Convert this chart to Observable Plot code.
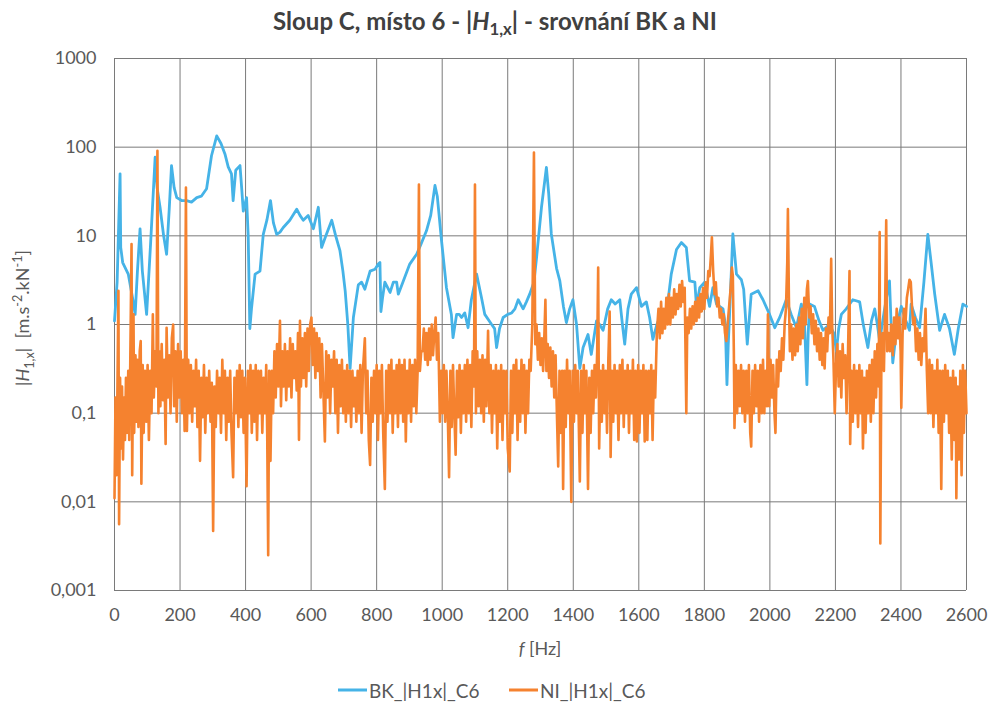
<!DOCTYPE html>
<html><head><meta charset="utf-8">
<script src="https://cdn.jsdelivr.net/npm/d3@7"></script>
<script src="https://cdn.jsdelivr.net/npm/@observablehq/plot@0.6"></script>
<style>
body{margin:0;background:#fff;font-family:Lato,"Open Sans",sans-serif;color:#595959;}
#wrap{position:relative;width:990px;height:705px;overflow:hidden;}
#chart{position:absolute;left:0;top:0;}
.t{position:absolute;white-space:nowrap;}
#title{left:0;width:990px;top:20px;text-align:center;font-weight:bold;font-size:24px;color:#404040;transform:translateY(-50%);}
#ylab{left:22px;top:318px;font-size:18px;transform:translate(-50%,-50%) rotate(-90deg);}
#xlab{left:540px;top:648px;font-size:18px;transform:translate(-50%,-50%);}
sub,sup{font-size:70%;line-height:0;}
.leg{top:690px;font-size:19px;transform:translateY(-50%);display:flex;align-items:center;}
.leg span.sw{display:inline-block;width:29px;height:3px;margin-right:2px;}
</style>
</head><body>
<div id="wrap">
<div id="chart"></div>
<div class="t" id="title">Sloup C, místo 6 - |<i>H</i><sub>1,x</sub>| - srovnání BK a NI</div>
<div class="t" id="ylab">|<i>H</i><sub>1,x</sub>| &nbsp;[m.s<sup>-2</sup>.kN<sup>-1</sup>]</div>
<div class="t" id="xlab"><i>f</i> [Hz]</div>
<div class="t leg" style="left:338px"><span class="sw" style="background:#45b3e7"></span>BK_|H1x|_C6</div>
<div class="t leg" style="left:509px"><span class="sw" style="background:#f5822f"></span>NI_|H1x|_C6</div>
</div>
<script>
const xTicks = [0,200,400,600,800,1000,1200,1400,1600,1800,2000,2200,2400,2600];
const yTicks = [0.001,0.01,0.1,1,10,100,1000];
const yTickLabels = ["0,001","0,01","0,1","1","10","100","1000"];
const seriesNames = ["BK_|H1x|_C6","NI_|H1x|_C6"];

const bkData = [[0,1.1],[8,3],[17,50],[19,7.4],[25,5],[42,3.7],[55,2],[63,1.3],[70,4],[78,12],[85,4],[98,1.3],[110,8],[124,77],[130,35],[139,21],[150,10],[159,6.2],[167,20],[174,62],[182,35],[190,27],[205,25],[220,25],[235,24],[251,27],[265,28],[281,34],[296,80],[312,134],[325,110],[337,84],[347,60],[357,50],[362,25],[370,55],[383,62],[388,35],[393,19],[403,27],[408,10],[413,0.9],[418,1.5],[429,3.7],[444,4],[454,10.4],[465,15],[476,25],[485,14],[495,10.4],[505,11],[515,12.4],[535,15],[556,20],[566,17],[576,15],[591,17],[607,12],[622,21],[632,7.4],[645,10],[663,15],[675,10],[688,6.8],[697,4],[704,2.4],[712,1],[719,0.32],[729,1.2],[744,2.8],[754,3],[764,2.5],[780,4],[795,4.2],[805,4.8],[810,5],[813,1.4],[818,2],[825,3],[841,2.3],[851,3],[861,3],[866,2.2],[880,3],[901,4.8],[922,6.2],[935,8],[952,11.4],[965,17],[978,37],[985,28],[998,8.8],[1013,2.6],[1028,1.3],[1033,0.71],[1044,1.3],[1052,1.3],[1059,1.2],[1069,1.35],[1079,0.92],[1089,1.9],[1105,3.7],[1120,2],[1130,1.3],[1151,1],[1160,0.9],[1166,0.55],[1175,0.9],[1186,1.2],[1200,1.3],[1212,1.35],[1222,1.5],[1232,1.9],[1247,1.5],[1257,1.8],[1267,2.2],[1280,3],[1288,5.7],[1303,21],[1318,59],[1325,30],[1333,10.5],[1349,4.3],[1359,3.1],[1370,1.6],[1379,1.05],[1389,1.5],[1399,1.9],[1410,1],[1420,0.32],[1430,0.55],[1445,0.77],[1455,0.46],[1471,1.1],[1480,1],[1491,0.86],[1505,1.5],[1516,1.9],[1528,1.7],[1542,1.9],[1550,1],[1557,0.6],[1567,1.5],[1577,2.2],[1593,2.6],[1608,1.6],[1623,1.8],[1633,1.2],[1643,0.68],[1655,1],[1664,1.2],[1684,1.3],[1699,3.7],[1715,7],[1730,8.4],[1745,7.4],[1755,3.1],[1771,3],[1776,1.6],[1786,2.6],[1801,3],[1816,1.6],[1826,2.6],[1837,1.7],[1857,1.5],[1864,1],[1869,0.21],[1873,0.6],[1877,1.3],[1887,10.5],[1898,3.7],[1913,3.2],[1920,2.5],[1931,0.6],[1943,2.2],[1964,2.4],[1979,1.9],[1999,1.3],[2015,0.92],[2030,1.2],[2050,1.9],[2065,1.3],[2081,0.92],[2096,1.7],[2105,1.2],[2113,0.21],[2117,0.8],[2121,1.7],[2136,1.6],[2150,1.1],[2162,0.86],[2182,1],[2195,0.8],[2203,0.5],[2210,0.9],[2218,1.3],[2233,1.5],[2253,1.9],[2274,1.8],[2285,1],[2299,0.55],[2310,1.1],[2320,1.5],[2328,1],[2335,0.65],[2350,1.5],[2365,3.1],[2370,1],[2375,0.37],[2388,1],[2401,1.6],[2415,1.1],[2426,0.86],[2431,1.7],[2444,1.2],[2457,0.92],[2470,3],[2482,10.4],[2492,5],[2503,2.2],[2518,0.86],[2533,1.3],[2548,0.9],[2563,0.46],[2575,0.9],[2589,1.7],[2600,1.6]];

const niData = [[0,0.011],[3,0.15],[6,0.02],[9,0.2],[12,2.4],[14,0.0056],[17,0.25],[20,0.04],[23,0.2],[26,0.03],[29,0.15],[32,0.05],[35,0.25],[38,0.06],[42,0.3],[45,0.05],[48,0.35],[52,8.1],[54,0.02],[58,1.3],[60,0.06],[64,0.45],[67,0.08],[70,0.4],[73,0.07],[77,0.5],[80,0.65],[82,0.016],[86,0.35],[89,0.06],[93,0.3],[97,0.08],[101,0.35],[105,0.05],[109,0.3],[113,0.1],[117,1.3],[120,0.15],[124,0.5],[128,0.2],[131,91],[134,0.1],[137,0.5],[140,0.12],[144,0.6],[148,0.14],[152,0.4],[156,0.045],[159,0.92],[163,0.15],[167,0.45],[171,0.1],[175,0.7],[179,1.0],[182,0.12],[186,0.5],[190,0.08],[194,0.6],[198,0.15],[202,0.5],[206,0.1],[210,0.4],[214,0.063],[218,35],[221,0.063],[225,0.4],[229,0.1],[233,0.35],[237,0.08],[241,0.3],[245,0.12],[249,0.4],[253,0.07],[257,0.3],[261,0.029],[265,0.25],[269,0.09],[273,0.35],[277,0.06],[281,0.25],[285,0.1],[289,0.3],[293,0.08],[297,0.22],[301,0.0047],[305,0.2],[309,0.07],[313,0.3],[317,0.1],[321,0.25],[325,0.06],[329,0.4],[333,0.1],[337,0.3],[341,0.05],[345,0.25],[349,0.08],[353,0.3],[357,0.06],[362,0.019],[366,0.25],[370,0.1],[374,0.3],[378,0.07],[382,0.35],[386,0.09],[390,0.3],[394,0.06],[398,0.25],[403,0.015],[407,0.3],[411,0.1],[415,0.35],[419,0.06],[423,0.3],[427,0.08],[431,0.35],[435,0.05],[439,0.3],[443,0.1],[447,0.3],[451,0.06],[455,0.25],[459,0.1],[463,0.35],[466,0.06],[469,0.0025],[472,0.3],[476,0.029],[480,0.3],[484,0.1],[488,0.5],[492,0.15],[496,0.6],[500,0.2],[505,1.1],[508,0.12],[512,0.5],[516,0.2],[520,0.6],[524,0.14],[528,0.5],[532,0.2],[536,0.7],[540,0.15],[544,0.6],[548,0.25],[552,0.5],[556,0.18],[560,0.8],[563,0.05],[566,1.1],[569,0.2],[573,0.7],[577,0.25],[581,0.8],[585,0.2],[589,0.9],[593,0.3],[597,1.0],[601,1.2],[605,0.35],[609,0.9],[613,0.25],[617,0.8],[621,0.3],[625,0.7],[629,0.15],[633,0.6],[637,0.2],[642,0.048],[646,0.5],[650,0.15],[654,0.45],[658,0.1],[662,0.4],[666,0.2],[670,0.5],[674,0.1],[678,0.4],[682,0.06],[686,0.35],[690,0.12],[694,0.4],[698,0.1],[702,0.3],[706,0.08],[710,0.35],[714,0.1],[718,0.3],[722,0.07],[726,0.3],[730,0.12],[734,0.25],[738,0.08],[742,0.3],[746,0.1],[750,0.35],[754,0.06],[758,0.3],[764,0.7],[768,0.1],[772,0.3],[776,0.05],[780,0.026],[784,0.25],[788,0.08],[792,0.3],[796,0.1],[800,0.35],[804,0.05],[808,0.3],[812,0.1],[816,0.35],[820,0.06],[825,0.014],[829,0.3],[833,0.08],[837,0.35],[841,0.1],[845,0.4],[849,0.06],[853,0.3],[857,0.1],[861,0.35],[865,0.07],[869,0.4],[873,0.1],[877,0.35],[881,0.08],[885,0.4],[889,0.048],[893,0.3],[897,0.1],[901,0.4],[905,0.08],[909,0.35],[913,0.12],[917,0.4],[921,0.1],[925,0.3],[929,38],[932,0.3],[936,0.5],[940,0.5],[944,0.9],[948,0.4],[952,0.8],[956,0.35],[960,0.9],[964,0.4],[968,1.0],[972,0.45],[976,0.8],[980,1.2],[984,0.4],[988,0.8],[993,0.08],[997,0.3],[1001,0.1],[1005,0.35],[1009,0.08],[1013,0.3],[1017,0.1],[1021,0.019],[1025,0.3],[1029,0.07],[1033,0.35],[1037,0.1],[1041,0.034],[1045,0.3],[1049,0.09],[1053,0.35],[1057,0.06],[1061,0.3],[1065,0.1],[1069,0.35],[1073,0.08],[1077,0.4],[1081,0.1],[1085,0.35],[1089,0.07],[1093,0.5],[1097,0.2],[1100,38],[1103,0.1],[1107,0.5],[1111,0.12],[1115,0.4],[1119,0.1],[1123,0.45],[1127,0.08],[1131,0.4],[1135,0.12],[1140,0.85],[1144,0.1],[1148,0.35],[1152,0.06],[1156,0.3],[1160,0.1],[1164,0.35],[1168,0.04],[1172,0.3],[1176,0.08],[1180,0.35],[1184,0.05],[1188,0.3],[1192,0.1],[1196,0.3],[1200,0.04],[1206,0.022],[1210,0.3],[1214,0.06],[1218,0.35],[1222,0.1],[1226,0.4],[1230,0.05],[1234,0.3],[1238,0.08],[1242,0.4],[1246,0.1],[1250,0.35],[1254,0.06],[1258,0.3],[1262,0.1],[1266,0.4],[1270,0.3],[1275,1.0],[1280,87],[1284,0.6],[1288,1.0],[1292,0.4],[1296,0.8],[1300,0.35],[1304,0.7],[1308,0.3],[1312,0.8],[1315,1.9],[1318,0.3],[1322,0.6],[1326,0.25],[1330,0.55],[1334,0.2],[1338,0.5],[1342,0.15],[1346,0.45],[1350,0.1],[1354,0.025],[1358,0.3],[1362,0.06],[1366,0.3],[1369,0.014],[1373,0.3],[1377,0.07],[1381,0.4],[1385,0.1],[1389,0.3],[1394,0.01],[1398,0.3],[1402,0.08],[1406,0.35],[1410,0.1],[1414,0.3],[1420,0.017],[1424,0.3],[1428,0.06],[1432,0.35],[1436,0.1],[1440,0.3],[1445,0.014],[1449,0.25],[1453,0.06],[1457,0.3],[1461,0.1],[1465,0.35],[1469,0.15],[1473,0.5],[1476,4.4],[1479,0.04],[1483,0.3],[1487,0.08],[1491,0.35],[1495,0.1],[1499,0.3],[1503,0.06],[1507,0.4],[1511,1.4],[1514,0.032],[1518,0.3],[1522,0.08],[1526,0.35],[1530,0.1],[1534,0.3],[1538,0.05],[1542,0.35],[1546,0.1],[1550,0.4],[1554,0.07],[1558,0.3],[1562,0.1],[1566,0.35],[1570,0.06],[1574,0.3],[1578,0.1],[1582,0.4],[1586,0.05],[1590,0.3],[1594,0.048],[1598,0.35],[1602,0.06],[1606,0.3],[1610,0.1],[1614,0.35],[1618,0.048],[1622,0.3],[1626,0.05],[1630,0.3],[1634,0.1],[1638,0.35],[1642,0.05],[1646,0.3],[1650,0.15],[1655,0.8],[1660,1.5],[1664,0.7],[1668,1.8],[1672,0.8],[1676,1.5],[1680,0.9],[1684,2.0],[1688,1.0],[1692,2.2],[1696,1.0],[1700,2.0],[1704,1.2],[1708,2.5],[1712,1.3],[1716,2.2],[1720,1.5],[1724,2.8],[1728,1.6],[1732,3.1],[1736,1.8],[1740,2.6],[1745,0.1],[1748,1.2],[1752,0.8],[1756,1.5],[1760,0.9],[1764,1.6],[1768,1.0],[1772,1.8],[1776,1.1],[1780,2.0],[1784,1.2],[1788,2.2],[1792,1.4],[1796,2.6],[1800,1.5],[1804,3.0],[1808,2.0],[1812,4.0],[1816,3.5],[1820,6.0],[1823,9.6],[1827,4.0],[1831,2.2],[1835,3.0],[1839,1.6],[1843,2.0],[1847,1.2],[1851,1.5],[1855,1.0],[1859,1.3],[1863,0.8],[1867,0.65],[1871,1.0],[1875,1.5],[1880,2.5],[1884,4.4],[1887,3.5],[1890,0.5],[1892,0.068],[1896,0.35],[1900,0.1],[1904,0.3],[1908,0.12],[1912,0.35],[1916,0.1],[1920,0.3],[1924,0.08],[1928,0.3],[1932,0.1],[1936,0.35],[1940,0.06],[1943,0.042],[1947,0.3],[1951,0.1],[1955,0.35],[1959,0.12],[1963,0.3],[1967,0.08],[1971,0.35],[1975,0.1],[1979,0.4],[1983,0.1],[1987,0.3],[1991,0.12],[1994,1.3],[1998,0.12],[2002,0.4],[2006,0.15],[2010,0.35],[2014,0.1],[2017,0.06],[2021,0.4],[2025,0.2],[2029,0.5],[2033,0.3],[2037,0.7],[2041,0.4],[2045,1.0],[2049,1.5],[2053,5],[2055,20],[2058,2],[2061,0.5],[2065,1.0],[2069,0.4],[2073,0.9],[2077,0.45],[2081,1.0],[2085,0.5],[2089,1.2],[2093,0.6],[2097,1.5],[2101,0.7],[2105,2.0],[2109,1.0],[2113,2.5],[2116,3.1],[2120,1.2],[2124,1.6],[2128,0.8],[2132,1.3],[2136,0.6],[2140,1.1],[2144,0.5],[2148,0.9],[2152,0.4],[2156,0.8],[2160,0.35],[2164,0.7],[2167,0.32],[2171,0.9],[2175,0.5],[2179,1.2],[2183,0.8],[2187,5.5],[2190,1.0],[2194,0.4],[2198,0.1],[2202,0.35],[2206,0.6],[2210,0.2],[2214,0.5],[2218,0.15],[2222,0.6],[2226,0.25],[2230,0.45],[2234,0.1],[2238,0.4],[2243,4.0],[2245,0.045],[2249,0.3],[2253,0.08],[2257,0.35],[2261,0.1],[2265,0.3],[2269,0.07],[2273,0.35],[2277,0.1],[2281,0.3],[2284,0.04],[2288,0.25],[2292,0.06],[2296,0.3],[2300,0.1],[2304,0.35],[2308,0.08],[2312,0.4],[2316,0.1],[2320,0.5],[2324,0.15],[2328,0.6],[2332,0.2],[2335,11],[2337,0.0034],[2340,0.3],[2344,0.8],[2348,0.3],[2352,2],[2355,15],[2358,0.5],[2362,0.8],[2366,0.5],[2370,1.0],[2375,0.45],[2379,1.2],[2383,0.6],[2387,1.5],[2391,0.7],[2395,1.2],[2399,0.5],[2401,0.115],[2405,0.8],[2409,1.5],[2413,0.9],[2418,2.0],[2422,2.5],[2426,3.2],[2430,3.0],[2434,1.5],[2438,1.0],[2442,1.2],[2446,0.5],[2450,0.9],[2454,0.4],[2458,0.8],[2462,0.35],[2466,0.7],[2470,0.5],[2475,1.5],[2479,0.3],[2483,0.1],[2487,0.4],[2491,0.1],[2495,0.35],[2499,0.07],[2503,0.3],[2507,0.1],[2511,0.4],[2515,0.06],[2519,0.3],[2523,0.014],[2527,0.3],[2531,0.08],[2535,0.35],[2539,0.1],[2543,0.3],[2547,0.06],[2551,0.25],[2555,0.03],[2559,0.3],[2563,0.05],[2567,0.25],[2569,0.011],[2573,0.2],[2577,0.03],[2581,0.3],[2585,0.02],[2589,0.35],[2592,0.06],[2596,0.3],[2600,0.1]];

const chart = Plot.plot({
  width: 990, height: 705,
  marginLeft: 114, marginRight: 24, marginTop: 58, marginBottom: 115,
  style: {fontFamily: "Lato, 'Open Sans', sans-serif", fontSize: "18px", color: "#595959", background: "transparent"},
  x: {domain: [0, 2600]},
  y: {type: "log", domain: [0.001, 1000]},
  marks: [
    Plot.gridX(xTicks, {stroke: "#7a7a7a", strokeOpacity: 1, strokeWidth: 1}),
    Plot.gridY(yTicks, {stroke: "#7a7a7a", strokeOpacity: 1, strokeWidth: 1}),
    Plot.axisX(xTicks, {tickSize: 0, tickPadding: 18, label: null, fill: "#595959", tickFormat: d => String(d)}),
    Plot.axisY(yTicks, {tickSize: 0, tickPadding: 18, label: null, fill: "#595959", tickFormat: d => yTickLabels[yTicks.indexOf(d)]}),
    Plot.line(bkData, {x: d => d[0], y: d => d[1], stroke: "#45b3e7", strokeWidth: 2.8}),
    Plot.line(niData, {x: d => d[0], y: d => d[1], stroke: "#f5822f", strokeWidth: 2.6})
  ]
});
document.getElementById("chart").appendChild(chart);
</script>
</body></html>
